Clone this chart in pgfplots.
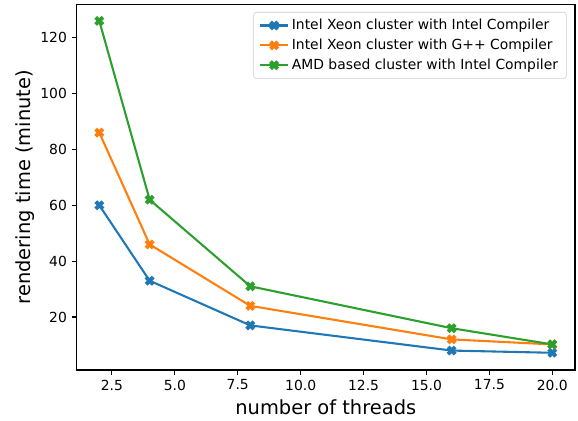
\documentclass[border=0pt]{standalone}
\usepackage{fontspec}
\setmainfont{DejaVu Sans}
\usepackage{pgfplots}
\pgfplotsset{compat=1.18}

\definecolor{mplblue}{HTML}{1F77B4}
\definecolor{mplorange}{HTML}{FF7F0E}
\definecolor{mplgreen}{HTML}{2CA02C}

% filled X marker, like matplotlib's 'X'
\pgfdeclareplotmark{Xfilled}{%
  \pgftransformrotate{45}%
  \pgfpathmoveto{\pgfpoint{0.37\pgfplotmarksize}{1.2\pgfplotmarksize}}%
  \pgfpathlineto{\pgfpoint{-0.37\pgfplotmarksize}{1.2\pgfplotmarksize}}%
  \pgfpathlineto{\pgfpoint{-0.37\pgfplotmarksize}{0.37\pgfplotmarksize}}%
  \pgfpathlineto{\pgfpoint{-1.2\pgfplotmarksize}{0.37\pgfplotmarksize}}%
  \pgfpathlineto{\pgfpoint{-1.2\pgfplotmarksize}{-0.37\pgfplotmarksize}}%
  \pgfpathlineto{\pgfpoint{-0.37\pgfplotmarksize}{-0.37\pgfplotmarksize}}%
  \pgfpathlineto{\pgfpoint{-0.37\pgfplotmarksize}{-1.2\pgfplotmarksize}}%
  \pgfpathlineto{\pgfpoint{0.37\pgfplotmarksize}{-1.2\pgfplotmarksize}}%
  \pgfpathlineto{\pgfpoint{0.37\pgfplotmarksize}{-0.37\pgfplotmarksize}}%
  \pgfpathlineto{\pgfpoint{1.2\pgfplotmarksize}{-0.37\pgfplotmarksize}}%
  \pgfpathlineto{\pgfpoint{1.2\pgfplotmarksize}{0.37\pgfplotmarksize}}%
  \pgfpathlineto{\pgfpoint{0.37\pgfplotmarksize}{0.37\pgfplotmarksize}}%
  \pgfpathclose
  \pgfusepathqfillstroke
}

\begin{document}
\begin{tikzpicture}
\begin{axis}[
  name=main,
  scale only axis,
  width=358.8pt, height=263.3pt,
  xmin=1.1, xmax=20.9, ymin=1.05, ymax=131.95,
  xtick={2.5,5,7.5,10,12.5,15,17.5,20},
  ytick={20,40,60,80,100,120},
  xticklabel style={/pgf/number format/.cd,fixed,fixed zerofill,precision=1},
  /pgf/number format/assume math mode=true,
  tick label style={font=\fontsize{10}{12}\selectfont},
  label style={font=\fontsize{14}{16}\selectfont},
  xlabel={number of threads},
  ylabel={rendering time (minute)},
  ylabel style={yshift=-3pt},
  tick align=outside, major tick length=3.5pt,
  xtick pos=bottom, ytick pos=left,
  axis line style={line width=0.8pt},
  every tick/.style={black, line width=0.8pt},
  legend style={at={(1,1)}, anchor=north east, xshift=-6pt, yshift=-5.5pt,
    draw=black!20, rounded corners=2pt, font=\fontsize{10}{12}\selectfont,
    cells={anchor=west}, row sep=1.2pt, inner xsep=4pt, inner ysep=3pt},
  legend image code/.code={\draw[mark repeat=2,mark phase=2] plot coordinates {(0pt,0pt) (10pt,0pt) (20pt,0pt)};},
  every axis plot/.append style={line width=1.5pt, mark=Xfilled, mark size=2.7pt, mark options={line width=0.8pt}},
]
\addplot[mplblue] coordinates {(2,60) (4,33) (8,17) (16,8) (20,7.2)};
\addlegendentry{Intel Xeon cluster with Intel Compiler}
\addplot[mplorange] coordinates {(2,86) (4,46) (8,24) (16,12) (20,10.2)};
\addlegendentry{Intel Xeon cluster with G++ Compiler}
\addplot[mplgreen] coordinates {(2,126) (4,62) (8,31) (16,16) (20,10.2)};
\addlegendentry{AMD based cluster with Intel Compiler}
\end{axis}
\path ([shift={(-55.2pt,-36.7pt)}]main.south west) rectangle ([shift={(2.2pt,3.1pt)}]main.north east);
\end{tikzpicture}
\end{document}
